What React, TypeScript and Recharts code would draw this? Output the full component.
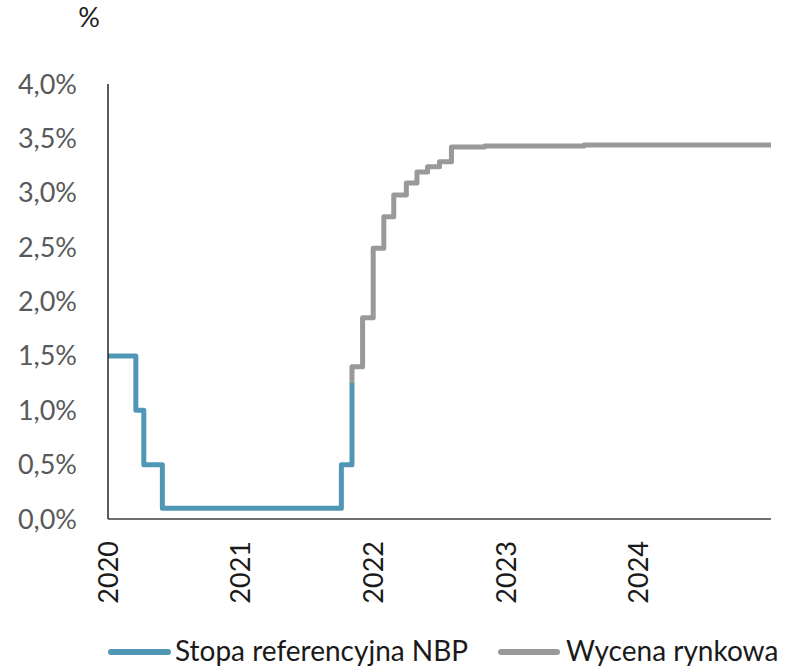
import { LineChart, Line, XAxis, YAxis } from 'recharts';

// decimal years for the step dates
const nbpDates = [2020.0, 2020.21, 2020.27, 2020.41, 2021.76, 2021.84];
const nbpRates = [1.5, 1.0, 0.5, 0.1, 0.5, 1.25];

const marketDates = [
  2021.84, 2021.84, 2021.92, 2022.0, 2022.08, 2022.155, 2022.25, 2022.33, 2022.41, 2022.5, 2022.59, 2022.84,
  2023.59, 2025.0,
];
const marketRates = [1.25, 1.4, 1.85, 2.49, 2.78, 2.98, 3.09, 3.19, 3.24, 3.285, 3.42, 3.43, 3.44, 3.44];

const yearTicks = [2020, 2021, 2022, 2023, 2024];
const rateTicks = [0, 0.5, 1, 1.5, 2, 2.5, 3, 3.5, 4];

const BLUE = '#5097b6';
const GREY = '#999999';
const FONT = 'Lato, "Open Sans", sans-serif';

const nbpData = nbpDates.map((d, i) => ({ date: d, value: nbpRates[i] }));
const marketData = marketDates.map((d, i) => ({ date: d, value: marketRates[i] }));

function YearTick({ x, y, payload }: { x?: number; y?: number; payload?: { value: number } }) {
  const ty = (y ?? 0) + 22;
  return (
    <text
      x={x}
      y={ty}
      transform={`rotate(-90 ${x} ${ty})`}
      textAnchor="end"
      dy="0.36em"
      fill="#1a1a1a"
      fontSize={27}
      fontFamily={FONT}
    >
      {payload?.value}
    </text>
  );
}

export default function App() {
  return (
    <div style={{ position: 'absolute', left: 0, top: 0, width: 791, height: 669, background: '#fff' }}>
      <LineChart width={791} height={669} margin={{ top: 84, right: 20, bottom: 60, left: 0 }}>
        <XAxis
          dataKey="date"
          type="number"
          domain={[2020, 2025]}
          ticks={yearTicks}
          allowDataOverflow
          height={90}
          tickLine={false}
          tickSize={0}
          tickMargin={0}
          axisLine={{ stroke: '#404040', strokeWidth: 1.5 }}
          tick={<YearTick />}
          interval={0}
        />
        <YAxis
          type="number"
          domain={[0, 4]}
          ticks={rateTicks}
          width={108}
          tickLine={false}
          tickSize={0}
          tickMargin={31}
          axisLine={{ stroke: '#262626', strokeWidth: 1.5 }}
          tick={{ fill: '#595959', fontSize: 27, fontFamily: FONT }}
          tickFormatter={(v: number) => v.toFixed(1).replace('.', ',') + '%'}
          interval={0}
        />
        <Line
          data={nbpData}
          dataKey="value"
          type="stepAfter"
          stroke={BLUE}
          strokeWidth={5}
          strokeLinejoin="round"
          dot={false}
          isAnimationActive={false}
        />
        <Line
          data={marketData}
          dataKey="value"
          type="stepAfter"
          stroke={GREY}
          strokeWidth={5}
          strokeLinejoin="round"
          dot={false}
          isAnimationActive={false}
        />
      </LineChart>
      <svg
        width={791}
        height={669}
        style={{ position: 'absolute', left: 0, top: 0, pointerEvents: 'none' }}
      >
        <text x={89} y={27} textAnchor="middle" fill="#1a1a1a" fontSize={27} fontFamily={FONT}>
          %
        </text>
        <line x1={111} y1={652} x2={168} y2={652} stroke={BLUE} strokeWidth={6} strokeLinecap="round" />
        <text x={175} y={661} fill="#1a1a1a" fontSize={28} fontFamily={FONT}>
          Stopa referencyjna NBP
        </text>
        <line x1={501} y1={652} x2={557} y2={652} stroke={GREY} strokeWidth={6} strokeLinecap="round" />
        <text x={566} y={661} fill="#1a1a1a" fontSize={28} fontFamily={FONT}>
          Wycena rynkowa
        </text>
      </svg>
    </div>
  );
}
